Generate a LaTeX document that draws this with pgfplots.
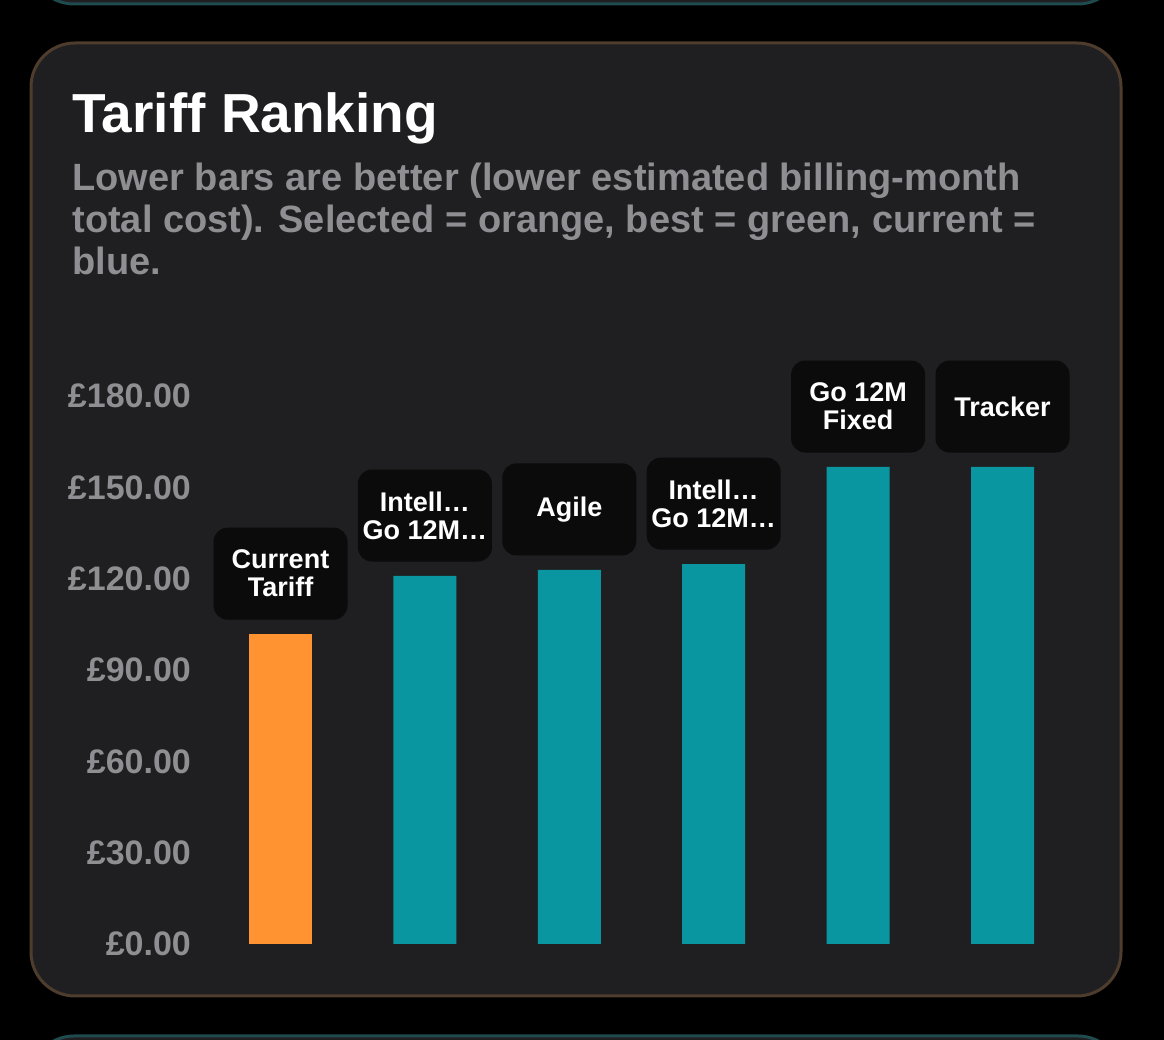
\documentclass[border=0pt]{standalone}
\usepackage{pgfplots}
\pgfplotsset{compat=1.18}
\usepackage{fontspec}
\setmainfont{Liberation Sans}
\definecolor{card}{HTML}{1F1F21}
\definecolor{cardedge}{HTML}{4E3C2C}
\definecolor{otheredge}{HTML}{1F4A4E}
\definecolor{barorange}{HTML}{FF9331}
\definecolor{barteal}{HTML}{0A96A0}
\definecolor{ticklbl}{HTML}{8E8E93}
\definecolor{lblbox}{HTML}{0B0B0C}

\begin{document}
\begin{tikzpicture}
\begin{scope}[x=0.5pt,y=0.5pt]
\useasboundingbox (0,0) rectangle (1164,1040);
\clip (0,0) rectangle (1164,1040);
\fill[black] (0,0) rectangle (1164,1040);
% neighbouring cards, cut by the page edge
\draw[otheredge, line width=1.5pt, fill=card, rounded corners=22pt] (30,1140) rectangle (1122,1036);
\draw[otheredge, line width=1.5pt, fill=card, rounded corners=22pt] (30,4) rectangle (1122,-100);
% this card
\draw[cardedge, line width=1.5pt, fill=card, rounded corners=22pt] (31,997) rectangle (1121,44);

\node[anchor=base west, inner sep=0pt, white, font=\bfseries\fontsize{27.5}{30}\selectfont] at (72,907) {Tariff Ranking};
\begin{scope}[every node/.style={anchor=base west, inner sep=0pt, text=ticklbl, font=\bfseries\fontsize{19}{21}\selectfont}]
\node at (72,849) {Lower bars are better (lower estimated billing-month};
\node at (72,807) {total cost). Selected = orange, best = green, current =};
\node at (72,765) {blue.};
\end{scope}
\end{scope}

\begin{axis}[
    at={(104.15pt,48pt)}, anchor=south west,
    scale only axis,
    width=433.2pt, height=274pt,
    xmin=-0.5, xmax=5.5,
    ymin=0, ymax=180,
    clip=false,
    axis line style={draw=none},
    tick style={draw=none},
    xtick=\empty,
    ytick={0,30,60,90,120,150,180},
    yticklabels={£0.00,£30.00,£60.00,£90.00,£120.00,£150.00,£180.00},
    yticklabel style={anchor=east, inner sep=0pt, xshift=-8.5pt, text=ticklbl,
        font=\bfseries\fontsize{17}{20}\selectfont},
    point meta=explicit symbolic,
    nodes near coords,
    every node near coord/.style={anchor=south, yshift=7pt, inner sep=0pt,
        fill=lblbox, rounded corners=7pt, minimum width=67pt, minimum height=46pt,
        align=center, text=white, font=\bfseries\fontsize{13.5}{14}\selectfont},
]
\addplot[ybar, bar width=31.5pt, bar shift=0pt, fill=barorange, draw=none]
    coordinates {(0,101.8) [{Current\\Tariff}]};
\addplot[ybar, bar width=31.5pt, bar shift=0pt, fill=barteal, draw=none]
    coordinates {(1,120.9) [{Intell…\\Go 12M…}] (2,122.9) [Agile] (3,124.8) [{Intell…\\Go 12M…}]
                 (4,156.7) [{Go 12M\\Fixed}] (5,156.7) [Tracker]};
\end{axis}
\end{tikzpicture}
\end{document}
